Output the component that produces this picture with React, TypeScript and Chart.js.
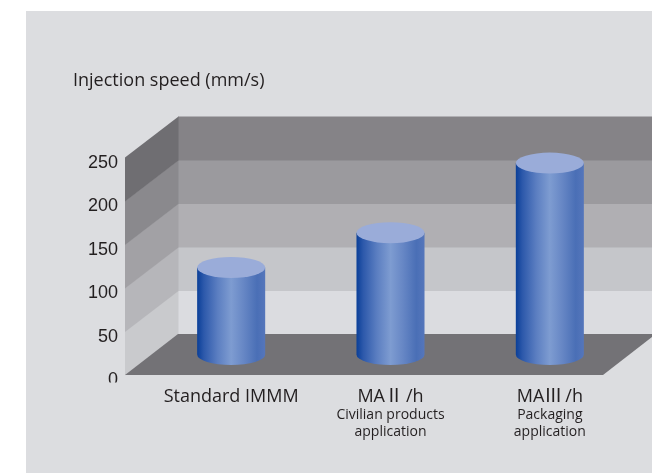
import React, { useEffect, useRef } from 'react';
import { Chart, registerables } from 'chart.js';

Chart.register(...registerables);

// ---- data ----
const categories = ['Standard IMMM', 'MA\u2161\u2009/h', 'MA\u2162\u2009/h'];
const subLabels = ['', ['Civilian products', 'application'], ['Packaging', 'application']];
const speeds = [100, 140, 220];
const bandEdges = [0, 50, 100, 150, 200, 250];
const titleText = 'Injection speed (mm/s)';

// ---- styles ----
const PANEL = '#dcdde0';
const TEXT = '#231f20';
const BACK_BANDS = ['#dbdce0', '#c5c6ca', '#b0afb3', '#9b9a9e', '#858387'];
const SIDE_BANDS = ['#c9cacd', '#b6b6ba', '#a2a1a5', '#8a898d', '#6f6e72'];
const FLOOR = '#737276';
const DX = 26.5;
const DY = 20.5;
const RY = 10.5;

const scenePlugin = {
  id: 'scene3d',
  beforeDraw(chart: any) {
    const ctx = chart.ctx;
    ctx.save();
    ctx.fillStyle = '#ffffff';
    ctx.fillRect(0, 0, chart.width, chart.height);
    ctx.fillStyle = PANEL;
    ctx.fillRect(26, 11, chart.width - 26, chart.height - 11);
    ctx.restore();
  },
  beforeDatasetsDraw(chart: any) {
    const ctx = chart.ctx;
    const { left, right } = chart.chartArea;
    const ys = chart.scales.y;
    ctx.save();
    // back wall
    for (let i = 0; i < bandEdges.length - 1; i++) {
      const top = ys.getPixelForValue(bandEdges[i + 1]) - DY;
      const bot = ys.getPixelForValue(bandEdges[i]) - DY;
      ctx.fillStyle = BACK_BANDS[i];
      ctx.fillRect(left + DX, top, right - left + 10, bot - top + 0.5);
    }
    // left wall
    for (let i = 0; i < bandEdges.length - 1; i++) {
      const y0 = ys.getPixelForValue(bandEdges[i]);
      const y1 = ys.getPixelForValue(bandEdges[i + 1]);
      ctx.fillStyle = SIDE_BANDS[i];
      ctx.beginPath();
      ctx.moveTo(left - DX, y0 + DY + 0.5);
      ctx.lineTo(left + DX + 0.5, y0 - DY + 0.5);
      ctx.lineTo(left + DX + 0.5, y1 - DY);
      ctx.lineTo(left - DX, y1 + DY);
      ctx.closePath();
      ctx.fill();
    }
    // floor
    const yb = ys.getPixelForValue(0);
    ctx.fillStyle = FLOOR;
    ctx.beginPath();
    ctx.moveTo(left - DX, yb + DY);
    ctx.lineTo(right - DX, yb + DY);
    ctx.lineTo(right + DX, yb - DY);
    ctx.lineTo(left + DX, yb - DY);
    ctx.closePath();
    ctx.fill();
    // the bottom of the "0" label is hidden in the reference
    ctx.fillStyle = PANEL;
    ctx.fillRect(60, yb + 28, left - DX - 61, 12);
    ctx.restore();
  },
  afterDatasetsDraw(chart: any) {
    const ctx = chart.ctx;
    const meta = chart.getDatasetMeta(0);
    ctx.save();
    meta.data.forEach((bar: any) => {
      const { x, y, base, width } = bar.getProps(['x', 'y', 'base', 'width'], true);
      const rx = width / 2;
      const g = ctx.createLinearGradient(x - rx, 0, x + rx, 0);
      g.addColorStop(0, '#0a3f98');
      g.addColorStop(0.1, '#2d59ab');
      g.addColorStop(0.3, '#5b7ec1');
      g.addColorStop(0.5, '#7e9cd1');
      g.addColorStop(0.68, '#6787c5');
      g.addColorStop(0.88, '#4a6fb6');
      g.addColorStop(1, '#5576bb');
      ctx.fillStyle = g;
      ctx.beginPath();
      ctx.moveTo(x - rx, y);
      ctx.lineTo(x - rx, base);
      ctx.ellipse(x, base, rx, RY, 0, Math.PI, 0, true);
      ctx.lineTo(x + rx, y);
      ctx.closePath();
      ctx.fill();
      // top cap
      ctx.fillStyle = '#9aacd9';
      ctx.beginPath();
      ctx.ellipse(x, y, rx, RY, 0, 0, Math.PI * 2);
      ctx.fill();
    });
    ctx.restore();
  },
};

export default function App() {
  const ref = useRef<HTMLCanvasElement | null>(null);
  useEffect(() => {
    if (!ref.current) return;
    const font = "'Open Sans', 'Noto Sans CJK JP', sans-serif";
    const chart = new Chart(ref.current, {
      type: 'bar',
      data: {
        labels: categories,
        datasets: [
          {
            data: speeds,
            backgroundColor: 'rgba(0,0,0,0)',
            borderWidth: 0,
            barPercentage: 0.427,
            categoryPercentage: 1,
            xAxisID: 'x',
            yAxisID: 'y',
          },
        ],
      },
      options: {
        responsive: false,
        animation: false,
        events: [],
        layout: { padding: { left: 73, right: 22.5, top: 60, bottom: 18.5 } },
        plugins: {
          legend: { display: false },
          tooltip: { enabled: false },
          title: {
            display: true,
            text: titleText,
            align: 'start',
            color: TEXT,
            font: { family: font, size: 18, weight: 'normal' },
            padding: { top: 9.7, bottom: 45.7 },
          },
        },
        scales: {
          x: {
            type: 'category',
            position: 'bottom',
            weight: 0,
            offset: true,
            grid: { display: false, drawTicks: false },
            border: { display: false },
            ticks: {
              color: TEXT,
              font: { family: font, size: 18 },
              padding: 32,
              maxRotation: 0,
              autoSkip: false,
            },
            afterFit: (s: any) => {
              s.height = 50;
            },
          },
          x2: {
            type: 'category',
            position: 'bottom',
            weight: 1,
            labels: subLabels as any,
            offset: true,
            grid: { display: false, drawTicks: false },
            border: { display: false },
            ticks: {
              color: TEXT,
              font: { family: font, size: 14, lineHeight: 1.2 },
              padding: 2.5,
              maxRotation: 0,
              autoSkip: false,
            },
            afterFit: (s: any) => {
              s.height = 50;
            },
          },
          y: {
            min: 0,
            max: 250,
            grid: { display: false, drawTicks: false },
            border: { display: false },
            ticks: {
              stepSize: 50,
              color: TEXT,
              font: { family: "'Liberation Sans', Arial, sans-serif", size: 18 },
              padding: 33.5,
              labelOffset: 26,
            },
            afterFit: (s: any) => {
              s.width = 78.5;
            },
          },
        },
      },
      plugins: [scenePlugin],
    } as any);
    return () => chart.destroy();
  }, []);
  return (
    <div style={{ position: 'fixed', left: 0, top: 0, width: 652, height: 473 }}>
      <canvas ref={ref} width={652} height={473} style={{ display: 'block' }} />
    </div>
  );
}
